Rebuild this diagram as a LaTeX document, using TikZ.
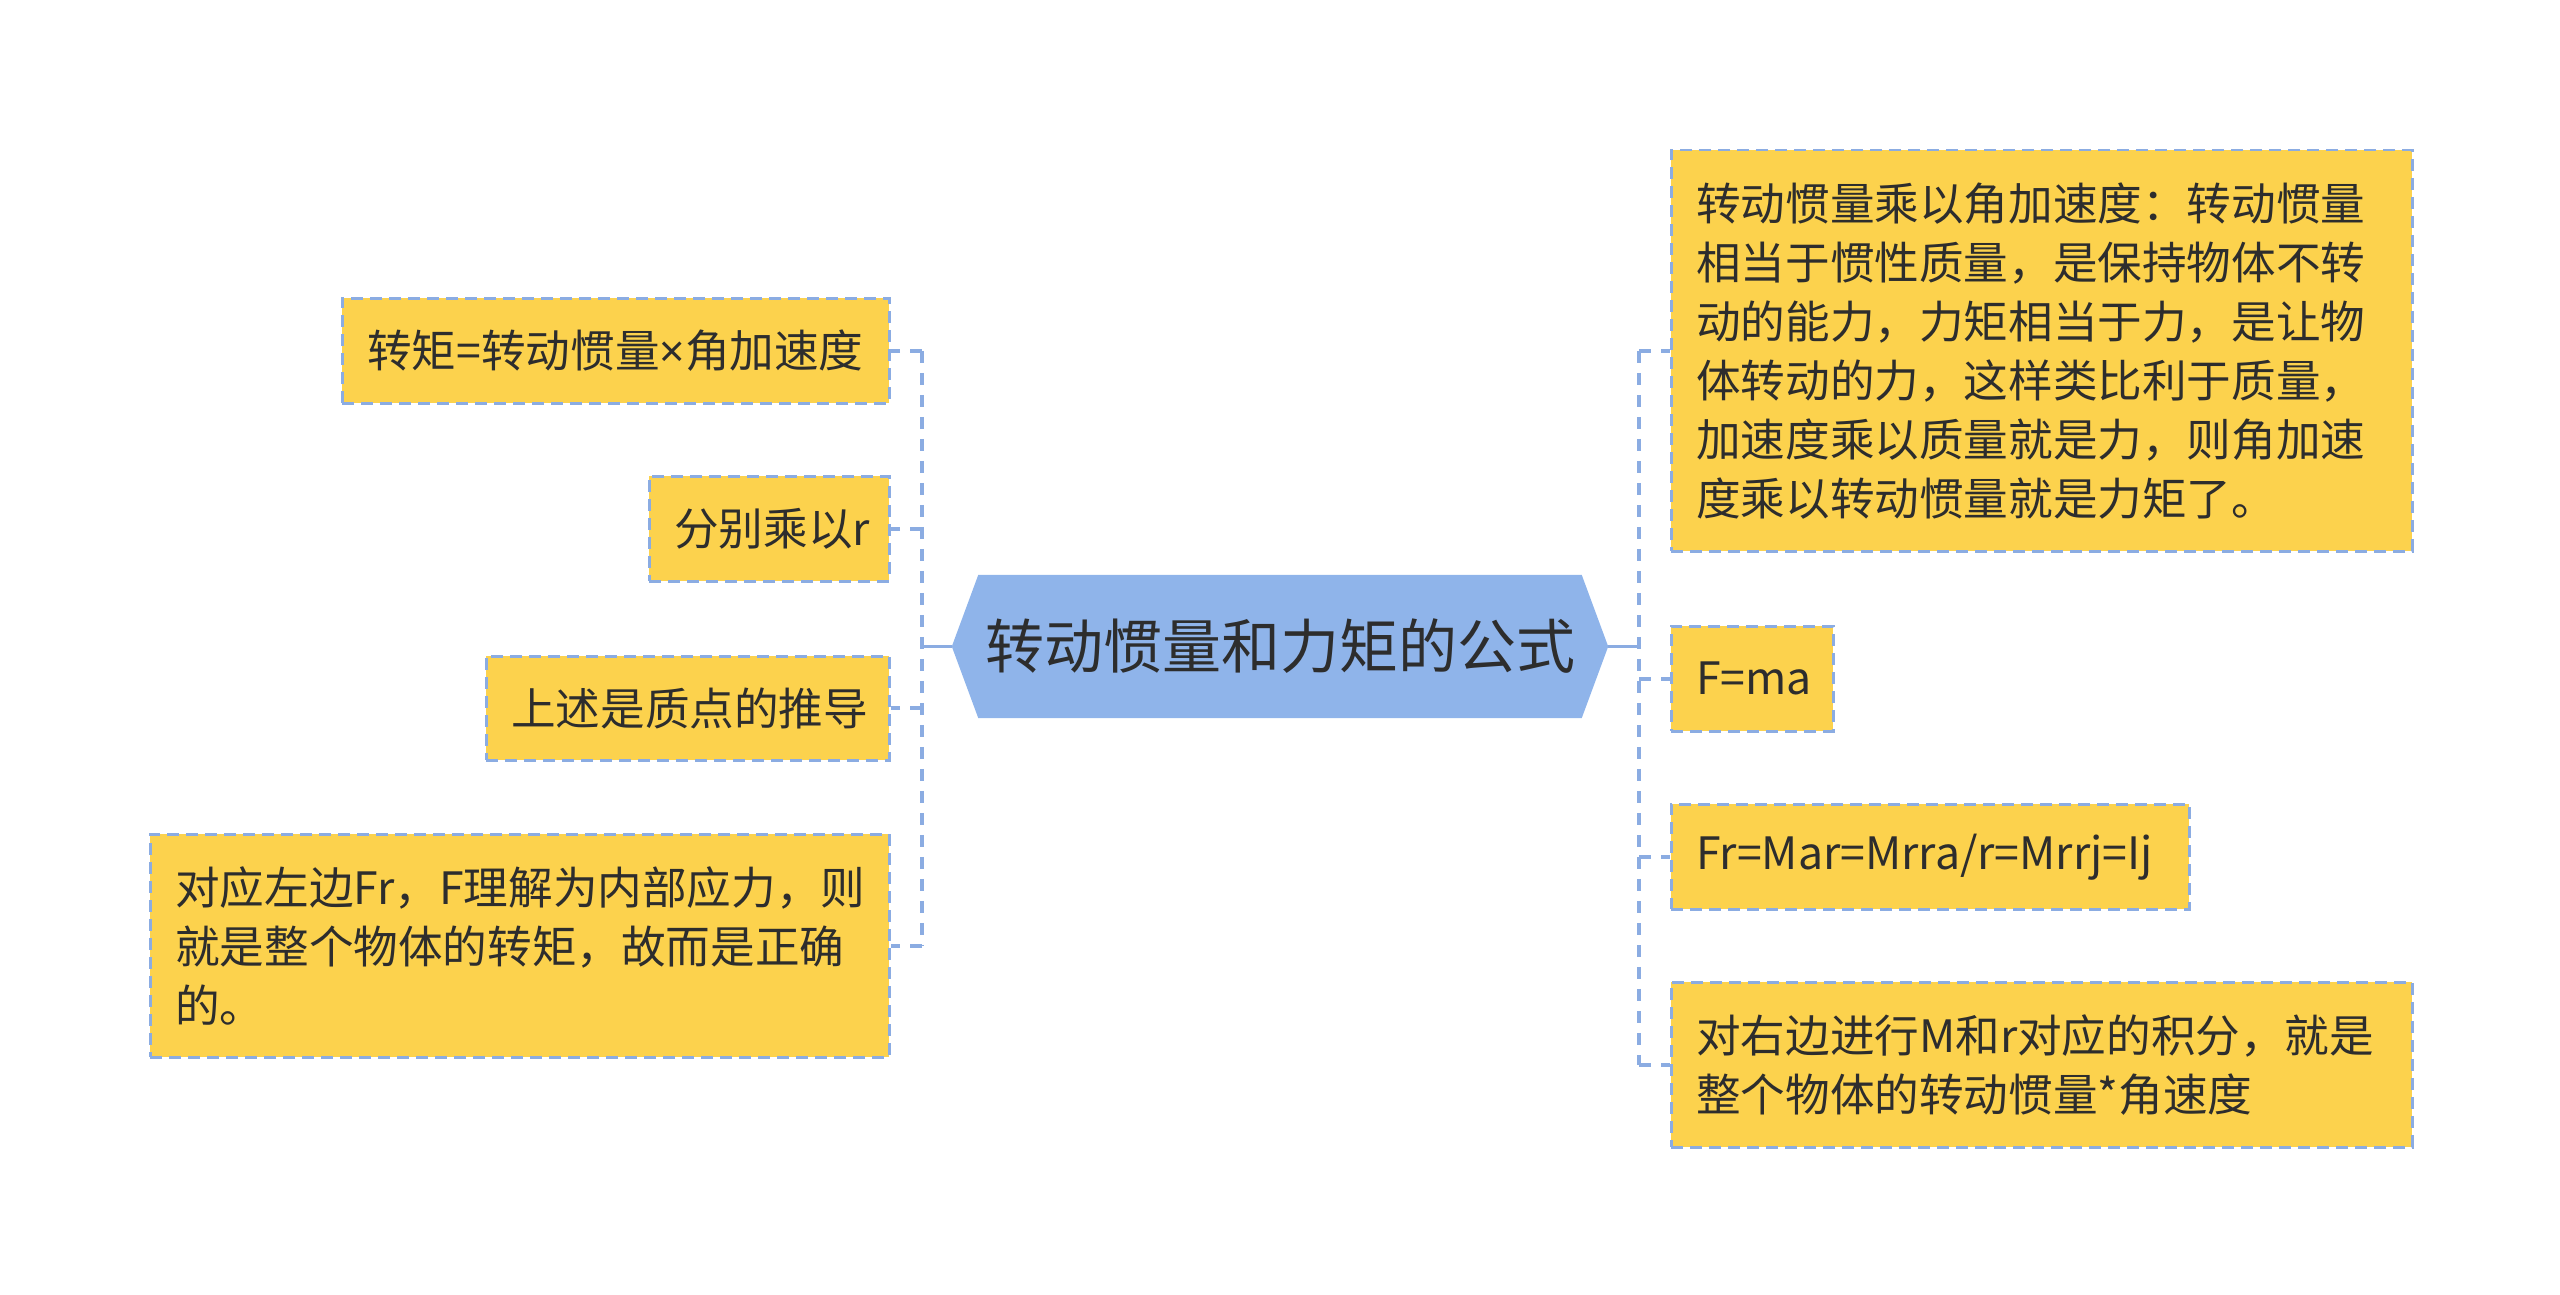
\documentclass[tikz,border=0pt]{standalone}
\usepackage{fontspec}
\setmainfont{Noto Sans CJK SC}
\newfontfamily\latinfont{Noto Sans}
\usetikzlibrary{backgrounds}
\definecolor{boxfill}{RGB}{252,210,77}
\definecolor{linec}{RGB}{139,172,226}
\definecolor{rootfill}{RGB}{143,180,234}
\definecolor{txt}{RGB}{45,45,45}
\tikzset{
  leaf/.style={draw=linec, line width=2.5pt, dash pattern=on 12pt off 7pt, fill=boxfill,
    text=txt, font=\fontsize{44.6}{59}\selectfont, align=left, inner xsep=25pt,
    inner ysep=0pt, anchor=north west},
  rootnode/.style={minimum width=656pt, minimum height=143pt, inner sep=0pt,
    font=\fontsize{59}{70}\selectfont, text=txt},
  trunk/.style={draw=linec, line width=3pt},
  branch/.style={draw=linec, line width=4pt, dash pattern=on 12pt off 10pt}
}
\begin{document}
\begin{tikzpicture}[x=1pt,y=-1pt]
\useasboundingbox (0,0) rectangle (2560,1295);
% root
\node[rootnode] (root) at (1280,646.5) {转动惯量和力矩的公式};
\begin{scope}[on background layer]
\fill[rootfill] (root.west) -- ([xshift=26.5pt]root.north west) -- ([xshift=-26.5pt]root.north east)
  -- (root.east) -- ([xshift=-26.5pt]root.south east) -- ([xshift=26.5pt]root.south west) -- cycle;
\end{scope}
% left leaves
\node[leaf, text width=497pt, minimum height=105pt] (L1) at (341,297) {转矩=转动惯量{\latinfont ×}角加速度};
\node[leaf, text width=190pt, minimum height=105pt] (L2) at (648,475) {分别乘以r};
\node[leaf, text width=353pt, minimum height=104pt] (L3) at (485,655) {上述是质点的推导};
\node[leaf, text width=689pt, minimum height=223pt] (L4) at (149,833) {对应左边Fr，F理解为内部应力，则\\就是整个物体的转矩，故而是正确\\的。};
% right leaves
\node[leaf, text width=691pt, minimum height=401pt] (R1) at (1670,149) {转动惯量乘以角加速度：转动惯量\\相当于惯性质量，是保持物体不转\\动的能力，力矩相当于力，是让物\\体转动的力，这样类比利于质量，\\加速度乘以质量就是力，则角加速\\度乘以转动惯量就是力矩了。};
\node[leaf, text width=112pt, minimum height=105pt] (R2) at (1670,625) {F=ma};
\node[leaf, text width=468pt, minimum height=105pt] (R3) at (1670,803) {Fr=Mar=Mrra/r=Mrrj=Ij};
\node[leaf, text width=691pt, minimum height=165pt] (R4) at (1670,981) {对右边进行M和r对应的积分，就是\\整个物体的转动惯量*角速度};
% connectors
\coordinate (lj) at (922,646.5);
\coordinate (rj) at (1639,646.5);
\draw[trunk] (root.west) -- (lj);
\draw[trunk] (root.east) -- (rj);
\draw[branch] (lj |- L1.east) -- (lj |- L4.east);
\draw[branch] (rj |- R1.west) -- (rj |- R4.west);
\foreach \n in {L1,L2,L3,L4} \draw[branch] (lj |- \n.east) -- (\n.east);
\foreach \n in {R1,R2,R3,R4} \draw[branch] (rj |- \n.west) -- (\n.west);
\end{tikzpicture}
\end{document}
